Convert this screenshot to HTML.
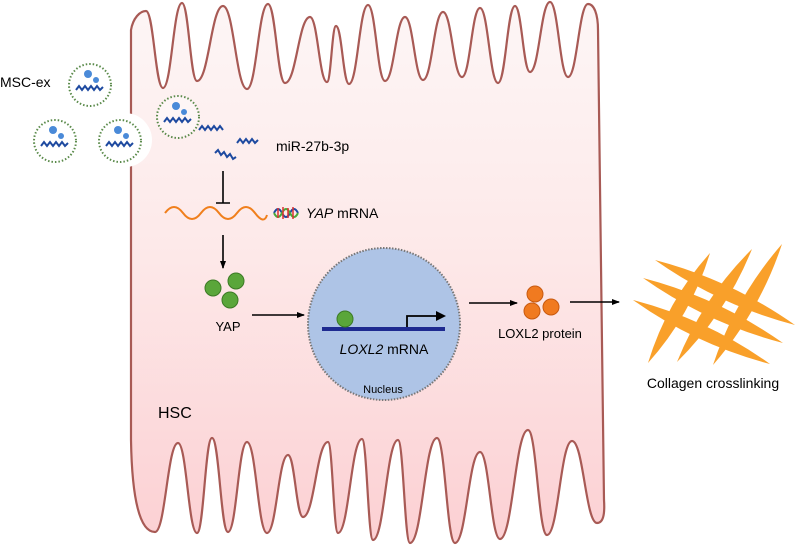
<!DOCTYPE html>
<html><head><meta charset="utf-8"><style>
html,body{margin:0;padding:0;background:#fff;}
svg{display:block;font-family:"Liberation Sans",Arial,sans-serif;}
</style></head><body>
<svg id="s" width="796" height="546" viewBox="0 0 796 546" xmlns="http://www.w3.org/2000/svg">
<defs>
<linearGradient id="g" x1="0" y1="0" x2="0" y2="1">
<stop offset="0" stop-color="#fdf6f6"/><stop offset="0.45" stop-color="#fde9e9"/><stop offset="1" stop-color="#fcd0d3"/>
</linearGradient>
<marker id="ah" markerWidth="8" markerHeight="8" refX="7" refY="4" orient="auto" markerUnits="userSpaceOnUse"><path d="M0,1 L8,4 L0,7 Z" fill="#000"/></marker>
<g id="exo">
<circle r="21" fill="#fff" fill-opacity="0.4" stroke="#5a8a4a" stroke-width="2" stroke-dasharray="1.5 2"/>
<circle cx="-2" cy="-11" r="4" fill="#4a8ad8"/><circle cx="6" cy="-5" r="3" fill="#4a8ad8"/>
<path d="M-14,5 l3,-4 l3,4 l3,-4 l3,4 l3,-4 l3,4 l3,-4 l3,4 l3,-3" fill="none" stroke="#1e4aa0" stroke-width="2"/>
</g>
</defs>
<path id="cell" fill="url(#g)" stroke="#a85a55" stroke-width="2.2"/>
<circle cx="125" cy="140" r="27" fill="#fff"/>
<use href="#exo" x="90" y="85"/>
<use href="#exo" x="55" y="141"/>
<use href="#exo" x="120" y="141"/>
<use href="#exo" x="178" y="117"/>
<g fill="none" stroke="#1e4aa0" stroke-width="2">
<path d="M199,130 l3,-4 l3,4 l3,-4 l3,4 l3,-4 l3,4 l3,-4 l3,4"/>
<path d="M237,143 l3,-4 l3,4 l3,-4 l3,4 l3,-4 l3,4 l3,-3"/>
<path d="M215,153 l3,-3 l3,5 l3,-3 l3,5 l3,-3 l3,5 l3,-2"/>
</g>
<text x="276" y="151" font-size="14">miR-27b-3p</text>
<text x="0" y="87" font-size="14">MSC-ex</text>
<path d="M223,171 V203 M216,203 H230" stroke="#000" stroke-width="1.6"/>
<path d="M165,213 q9,-12 18,0 t18,0 t18,0 t18,0 t18,0 t12,2" fill="none" stroke="#f07f1c" stroke-width="2"/>
<path d="M274,213 q4,-8 8,0 t8,0 t8,0" fill="none" stroke="#1e4aa0" stroke-width="2"/>
<path d="M274,213 q4,8 8,0 t8,0 t8,0" fill="none" stroke="#4aa83a" stroke-width="2"/>
<path d="M278,208 v10 M283,207 v12 M288,208 v10 M293,207 v12" stroke="#e03030" stroke-width="1.5"/>
<text x="306" y="218" font-size="14"><tspan font-style="italic">YAP</tspan> mRNA</text>
<line x1="223" y1="235" x2="223" y2="268" stroke="#000" stroke-width="1.6" marker-end="url(#ah)"/>
<g fill="#5aa63a" stroke="#3c7a25" stroke-width="1"><circle cx="213" cy="288" r="8"/><circle cx="236" cy="281" r="8"/><circle cx="230" cy="300" r="8"/></g>
<text x="228" y="331" font-size="13" text-anchor="middle">YAP</text>
<line x1="252" y1="315" x2="304" y2="315" stroke="#000" stroke-width="1.4" marker-end="url(#ah)"/>
<circle cx="384" cy="324" r="76" fill="#aec4e6" stroke="#777" stroke-width="2" stroke-dasharray="1.5 1.5"/>
<line x1="322" y1="329" x2="445" y2="329" stroke="#1e2a90" stroke-width="4"/>
<circle cx="345" cy="319" r="8" fill="#5aa63a" stroke="#3c7a25"/>
<path d="M407,327 V316 H438" fill="none" stroke="#000" stroke-width="1.8"/>
<path d="M436,311 L446,316 L436,321 Z" fill="#000"/>
<text x="384" y="354" font-size="14" text-anchor="middle"><tspan font-style="italic">LOXL2</tspan> mRNA</text>
<text x="383" y="393" font-size="11" text-anchor="middle">Nucleus</text>
<line x1="469" y1="303" x2="517" y2="303" stroke="#000" stroke-width="1.4" marker-end="url(#ah)"/>
<g fill="#f07a20" stroke="#c85a10" stroke-width="1"><circle cx="535" cy="294" r="8"/><circle cx="532" cy="311" r="8"/><circle cx="551" cy="307" r="8"/></g>
<text x="540" y="338" font-size="13" text-anchor="middle">LOXL2 protein</text>
<line x1="570" y1="302" x2="619" y2="302" stroke="#000" stroke-width="1.4" marker-end="url(#ah)"/>
<g id="col" fill="#f9a02a"></g>
<text x="713" y="388" font-size="14" text-anchor="middle">Collagen crosslinking</text>
<text x="158" y="418" font-size="16">HSC</text>
</svg>
<script>
(function(){
var tp=[[146,11],[163,88],[182,3],[197,81],[223,6],[247,89],[268,4],[285,83],[310,17],[327,82],[336,26],[349,84],[368,5],[385,81],[405,17],[423,80],[443,12],[462,77],[480,8],[498,83],[515,6],[530,72],[550,2],[568,77],[588,4]];
var bt=[[597,523],[572,441],[547,535],[528,430],[500,539],[480,452],[455,543],[437,438],[410,543],[398,440],[373,540],[362,439],[338,533],[328,442],[303,517],[288,455],[267,533],[247,442],[228,532],[212,438],[197,533],[178,443],[155,532]];
var f=0.45;
function seg(a,b){return " C"+(a[0]+(b[0]-a[0])*f)+","+a[1]+" "+(b[0]-(b[0]-a[0])*f)+","+b[1]+" "+b[0]+","+b[1];}
var d="M131,70 L131,30 C133,18 140,11 146,11";
for(var i=0;i<tp.length-1;i++)d+=seg(tp[i],tp[i+1]);
d+=" C594,4 598,14 598,30 L604,500 C605,515 603,523 597,523";
for(var j=0;j<bt.length-1;j++)d+=seg(bt[j],bt[j+1]);
d+=" C140,532 132,500 131,440 Z";
document.getElementById("cell").setAttribute("d",d);
var spikes=[[648,363,710,253],[677,362,752,249],[713,365,782,244],[655,260,795,325],[643,278,783,343],[633,300,770,364]];
var g=document.getElementById("col");
spikes.forEach(function(s){var dx=s[2]-s[0],dy=s[3]-s[1],L=Math.hypot(dx,dy),nx=-dy/L*7,ny=dx/L*7,mx=(s[0]+s[2])/2,my=(s[1]+s[3])/2;
var el=document.createElementNS("http://www.w3.org/2000/svg","path");
el.setAttribute("d","M"+s[0]+","+s[1]+" Q"+(mx+nx*2)+","+(my+ny*2)+" "+s[2]+","+s[3]+" Q"+(mx-nx*2)+","+(my-ny*2)+" "+s[0]+","+s[1]+"Z");
g.appendChild(el);});
})();
</script>
</body></html>
